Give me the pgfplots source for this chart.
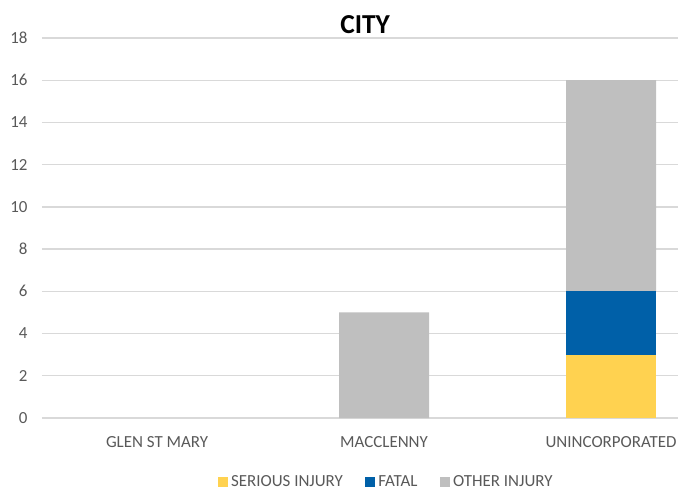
\documentclass[border=0pt]{standalone}
\usepackage{fontspec}
\setmainfont{Carlito}
\usepackage{pgfplots}
\pgfplotsset{compat=1.18}
\definecolor{serious}{HTML}{FFD250}
\definecolor{fatal}{HTML}{0060A8}
\definecolor{other}{HTML}{BFBFBF}
\definecolor{gridgray}{HTML}{D9D9D9}
\definecolor{labelgray}{HTML}{595959}
\pgfplotsset{sq legend/.style={legend image code/.code={\fill[##1,draw=none] (0bp,-5bp) rectangle (10bp,5bp);}}}
\begin{document}
\begin{tikzpicture}
\begin{axis}[name=ax,
  width=636bp, height=380bp, scale only axis,
  ybar stacked, bar width=90bp,
  xmin=-0.507, xmax=2.295, ymin=0, ymax=18,
  xtick={0,1,2},
  xticklabels={GLEN ST MARY,MACCLENNY,UNINCORPORATED},
  ytick={0,2,...,18},
  ymajorgrids, grid style={draw=gridgray, line width=1.3bp},
  axis line style={draw=none},
  major tick length=0pt,
  /pgf/number format/assume math mode=true,
  tick label style={font=\fontsize{17}{20}\selectfont, text=labelgray},
  yticklabel style={xshift=-11bp},
  xticklabel style={yshift=-14.5bp},
  title={CITY},
  title style={font=\fontsize{27.5}{32}\selectfont\bfseries, at={(0.508,1)}, anchor=base, yshift=-1bp},
  legend style={draw=none, at={(0.541,-0.168)}, anchor=center, legend columns=-1,
    font=\fontsize{17}{20}\selectfont, text=labelgray,
    /tikz/every odd column/.append style={column sep=1.5bp},
    /tikz/every even column/.append style={column sep=20bp}},
]
\addplot[fill=serious, draw=none, sq legend] coordinates {(0,0) (1,0) (2,3)};
\addplot[fill=fatal, draw=none, sq legend] coordinates {(0,0) (1,0) (2,3)};
\addplot[fill=other, draw=none, sq legend] coordinates {(0,0) (1,5) (2,10)};
\legend{SERIOUS INJURY, FATAL, OTHER INJURY}
\end{axis}
\pgfresetboundingbox
\path[use as bounding box] ([shift={(-42bp,-72bp)}]ax.south west) rectangle ([shift={(2bp,38bp)}]ax.north east);
\end{tikzpicture}
\end{document}
